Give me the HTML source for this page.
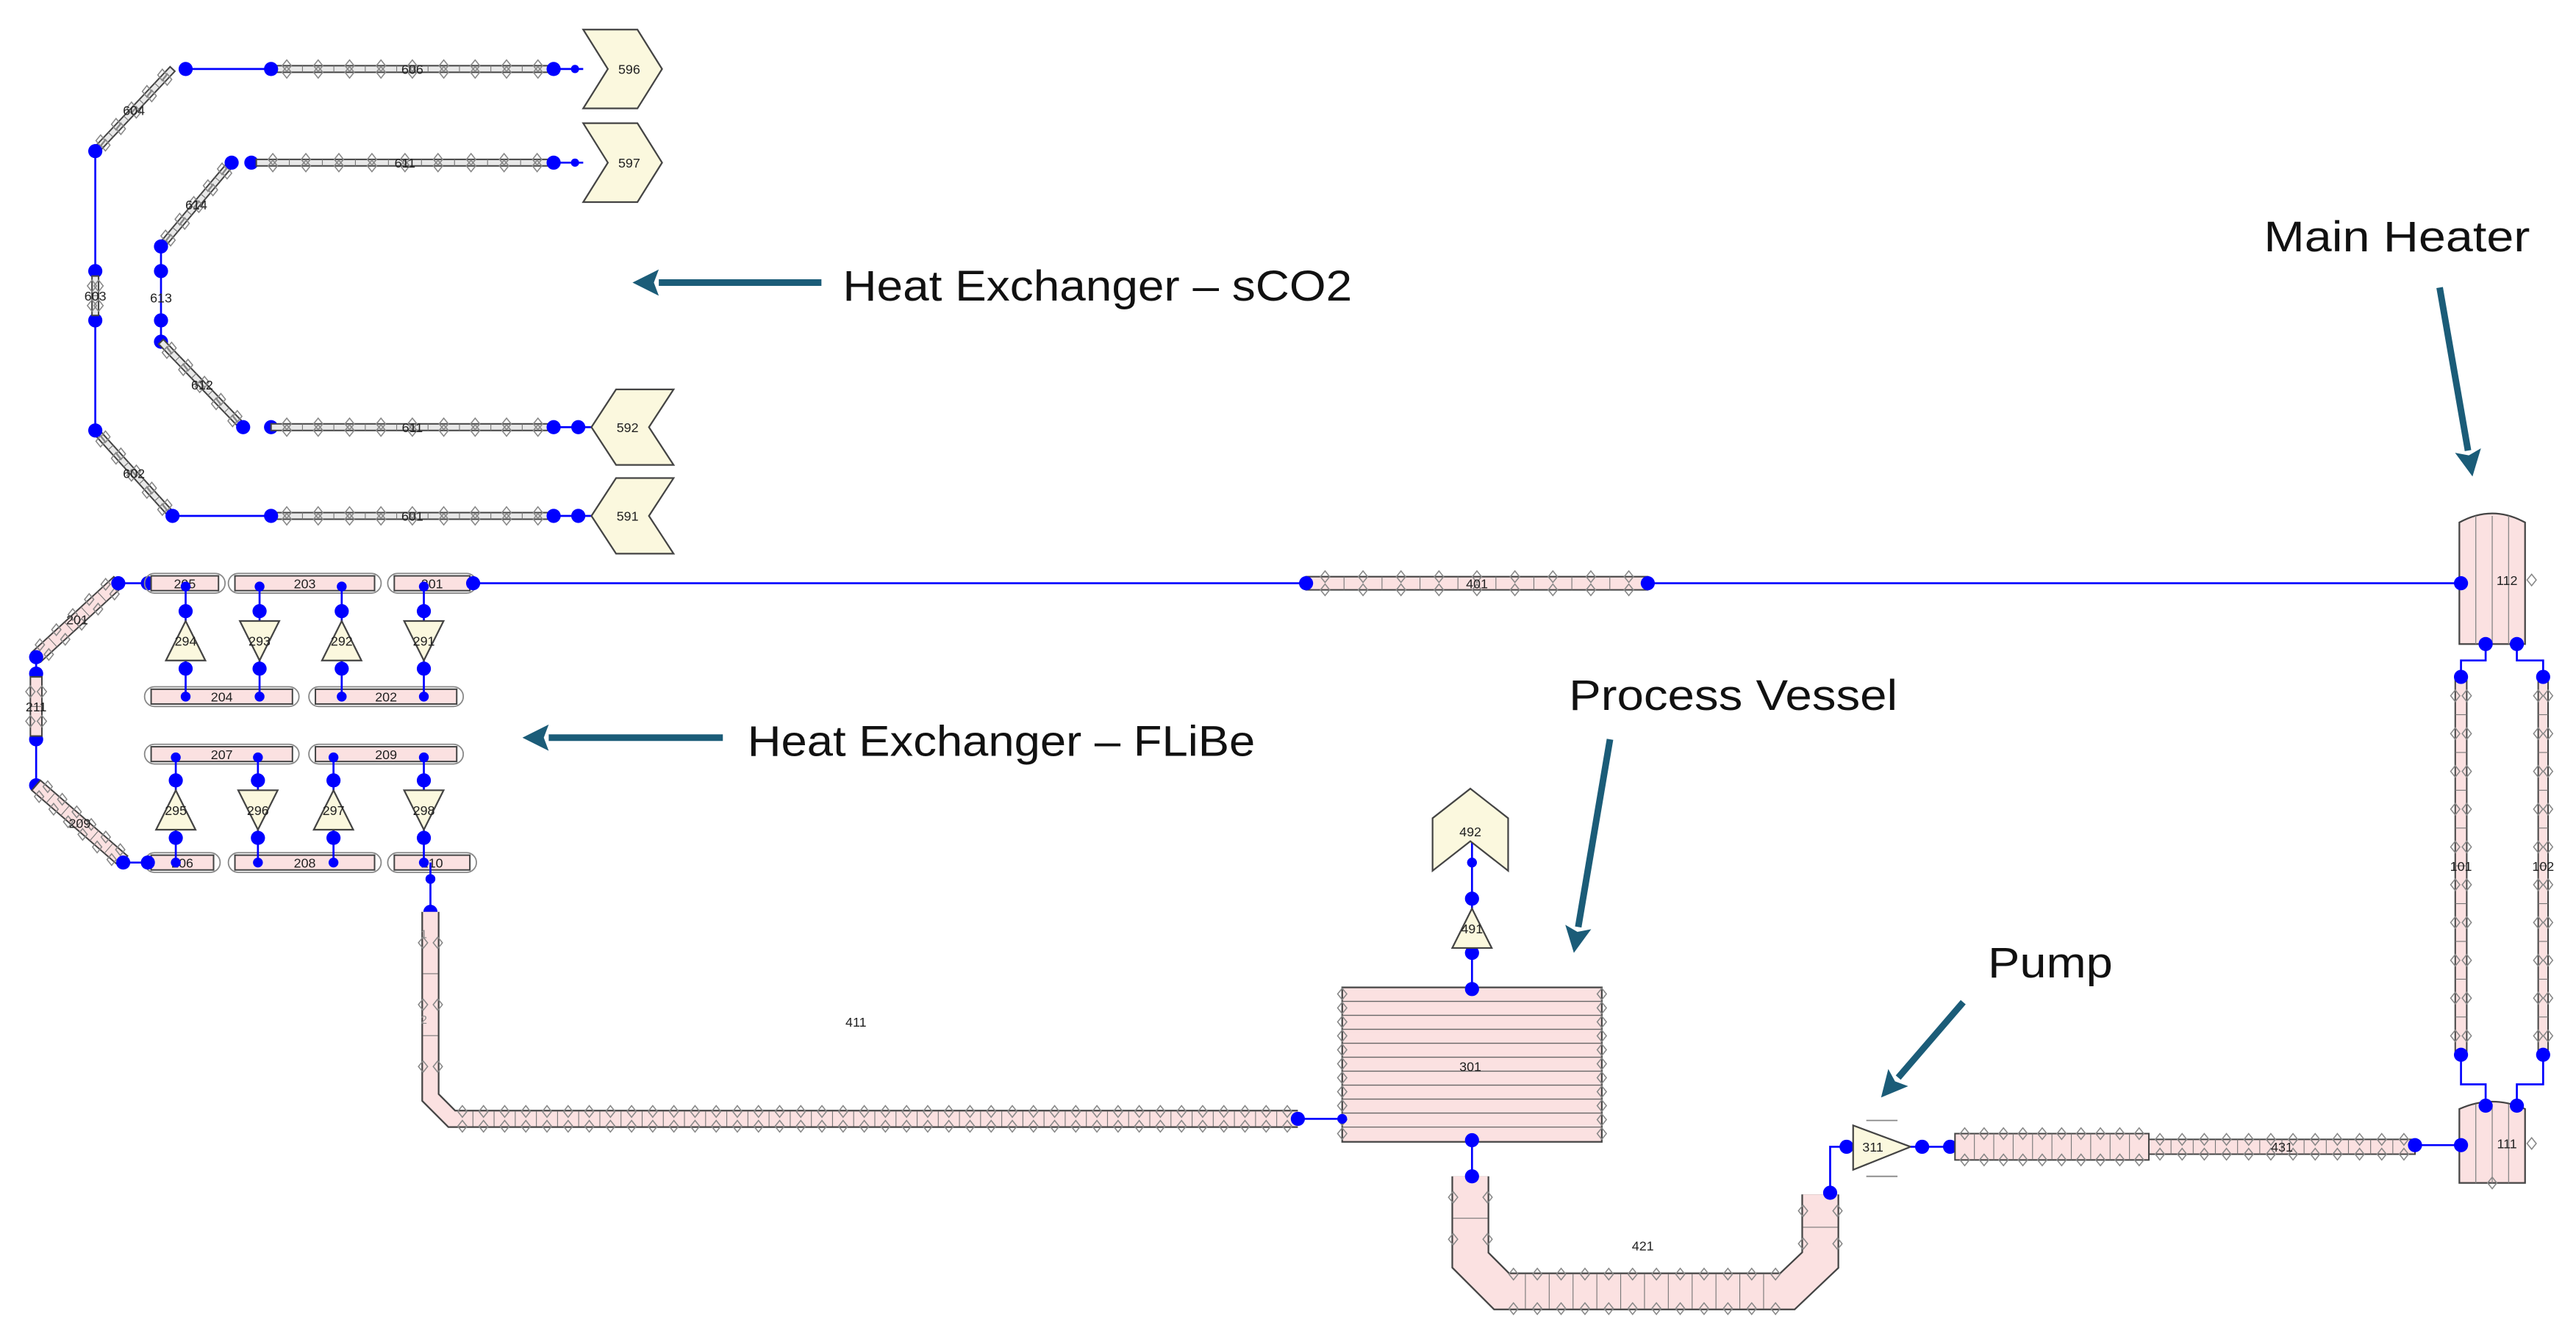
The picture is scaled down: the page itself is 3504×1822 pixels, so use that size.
<!DOCTYPE html>
<html><head><meta charset="utf-8"><style>
html,body{margin:0;padding:0;background:#fff;width:3504px;height:1822px;overflow:hidden}
svg{display:block}
text{font-family:"Liberation Sans",Arial,sans-serif}
</style></head><body>
<svg id="s" width="3504" height="1822" viewBox="0 0 1568 815" preserveAspectRatio="none" xmlns="http://www.w3.org/2000/svg">
<g id="g"></g>
</svg>
<script>
const NS="http://www.w3.org/2000/svg",G=document.getElementById('g');
function el(t,a,txt){const e=document.createElementNS(NS,t);for(const k in a)e.setAttribute(k,a[k]);if(txt!==undefined)e.textContent=txt;G.appendChild(e);return e;}
function line(x1,y1,x2,y2,c='#0000ff',w=1.2){el('line',{x1,y1,x2,y2,stroke:c,'stroke-width':w});}
function poly(pts,c='#0000ff',w=1.2){el('polyline',{points:pts,fill:'none',stroke:c,'stroke-width':w});}
function dot(x,y,r=4.3){el('circle',{cx:x,cy:y,r,fill:'#0000ff'});}
function txt(x,y,s,sz=8,c='#222',anc='middle'){return el('text',{x,y,'font-size':sz,fill:c,'text-anchor':anc},s);}
function big(x,y,s,len){el('text',{x,y,'font-size':26,fill:'#111','text-anchor':'start',textLength:len,lengthAdjust:'spacingAndGlyphs'},s);}
function dia(x,y,s=3.5){el('polygon',{points:`${x},${y-s} ${x+s*0.8},${y} ${x},${y+s} ${x-s*0.8},${y}`,fill:'none',stroke:'#888','stroke-width':0.7});}
function pipe(x1,y1,x2,y2,w,n,fill,label,lsz){
 const dx=x2-x1,dy=y2-y1,L=Math.hypot(dx,dy),ux=dx/L,uy=dy/L,nx=-uy*w/2,ny=ux*w/2;
 el('polygon',{points:`${x1+nx},${y1+ny} ${x2+nx},${y2+ny} ${x2-nx},${y2-ny} ${x1-nx},${y1-ny}`,fill:fill,stroke:'#444','stroke-width':0.9});
 for(let i=1;i<n;i++){const t=i/n,px=x1+dx*t,py=y1+dy*t;
  el('line',{x1:px+nx,y1:py+ny,x2:px-nx,y2:py-ny,stroke:'#777','stroke-width':0.5});}
 for(let i=0;i<n;i++){const t=(i+0.5)/n,px=x1+dx*t,py=y1+dy*t;dia(px+nx,py+ny);dia(px-nx,py-ny);}
 if(label)txt((x1+x2)/2,(y1+y2)/2+3,label,lsz||8);
}
function bent(pts,w){ // continuous pipe with mitred joints
 el('polyline',{points:pts,fill:'none',stroke:'#444','stroke-width':w+2,'stroke-linejoin':'miter'});
 el('polyline',{points:pts,fill:'none',stroke:'#fbe1e1','stroke-width':w,'stroke-linejoin':'miter'});
}
function ticks(x1,y1,x2,y2,w,n){const dx=x2-x1,dy=y2-y1,L=Math.hypot(dx,dy),nx=-dy/L*w/2,ny=dx/L*w/2;
 for(let i=1;i<n;i++){const t=i/n,px=x1+dx*t,py=y1+dy*t;el('line',{x1:px+nx,y1:py+ny,x2:px-nx,y2:py-ny,stroke:'#777','stroke-width':0.5});}
 for(let i=0;i<n;i++){const t=(i+0.5)/n,px=x1+dx*t,py=y1+dy*t;dia(px+nx,py+ny);dia(px-nx,py-ny);}}
function grey(x1,y1,x2,y2,n,label){pipe(x1,y1,x2,y2,4,n,'#e8e8e8',label,8);}
function pink(x1,y1,x2,y2,n,label,w=8){pipe(x1,y1,x2,y2,w,n,'#fbe1e1',label,8);}
function chevR(x,y,lab){el('polygon',{points:`${x},${y-24} ${x+33},${y-24} ${x+48},${y} ${x+33},${y+24} ${x},${y+24} ${x+15},${y}`,fill:'#fbf8de',stroke:'#444','stroke-width':1});txt(x+28,y+3,lab,8);}
function chevL(x,y,lab){el('polygon',{points:`${x},${y} ${x+15},${y-23} ${x+50},${y-23} ${x+35},${y} ${x+50},${y+23} ${x+15},${y+23}`,fill:'#fbf8de',stroke:'#444','stroke-width':1});txt(x+22,y+3,lab,8);}
function tri(x,y,up,lab){const h=24,b=12;const p=up?`${x},${y-h/2} ${x+b},${y+h/2} ${x-b},${y+h/2}`:`${x-b},${y-h/2} ${x+b},${y-h/2} ${x},${y+h/2}`;el('polygon',{points:p,fill:'#fbf8de',stroke:'#444','stroke-width':1});txt(x,y+3,lab,8);}
function arrow(x1,y1,x2,y2){const dx=x2-x1,dy=y2-y1,L=Math.hypot(dx,dy),ux=dx/L,uy=dy/L,hl=16,hw=8;
 const bx=x2-ux*hl,by=y2-uy*hl;
 el('line',{x1,y1,x2:bx,y2:by,stroke:'#1b5c78','stroke-width':4});
 el('polygon',{points:`${x2},${y2} ${bx-uy*hw},${by+ux*hw} ${bx+ux*3},${by+uy*3} ${bx+uy*hw},${by-ux*hw}`,fill:'#1b5c78'});}
function hpipeRow(x1,x2,y,lab){
 el('rect',{x:x1-4,y:y-6,width:x2-x1+8,height:12,rx:6,fill:'none',stroke:'#888','stroke-width':0.8});
 el('rect',{x:x1,y:y-4.5,width:x2-x1,height:9,fill:'#fbe1e1',stroke:'#444','stroke-width':0.9});
 txt((x1+x2)/2,y+3,lab,8);}

// ===== sCO2 =====
line(113,42,165,42);grey(165,42,337,42,9,'606');dot(113,42);dot(165,42);dot(337,42);dot(350,42,2.5);line(337,42,355,42);chevR(355,42,'596');
grey(58,92,105,42,5,'604');
line(58,92,58,262);dot(58,92);dot(58,165);dot(58,195);grey(58,168,58,192,2,'');txt(58,183,'603',8);
grey(58,262,105,314,5,'602');dot(58,262);
line(105,314,165,314);grey(165,314,337,314,9,'601');dot(105,314);dot(165,314);dot(337,314);dot(352,314);line(337,314,360,314);chevL(360,314,'591');
grey(98,150,141,99,5,'614');dot(141,99);dot(153,99);grey(156,99,337,99,9,'611');dot(337,99);dot(350,99,2.5);line(337,99,355,99);chevR(355,99,'597');
line(98,150,98,208);dot(98,150);dot(98,165);dot(98,195);dot(98,208);txt(98,184,'613',8);
grey(98,208,148,260,5,'612');dot(148,260);dot(165,260);grey(165,260,337,260,9,'611');dot(337,260);dot(352,260);line(337,260,360,260);chevL(360,260,'592');
arrow(500,172,385,172);big(513,183,'Heat Exchanger – sCO2',310);

// ===== FLiBe =====
pink(22,400,72,354,5,'201');
line(72,355,90,355);dot(72,355);dot(90,355);
hpipeRow(92,133,355,'205');hpipeRow(143,228,355,'203');hpipeRow(240,286,355,'201');
line(286,355,1498,355);pink(795,355,1003,355,9,'401');dot(288,355);dot(795,355);dot(1003,355);
hpipeRow(92,178,424,'204');hpipeRow(192,278,424,'202');
[[113,1,'294'],[158,0,'293'],[208,1,'292'],[258,0,'291']].forEach(([x,u,l])=>{line(x,357,x,422);dot(x,372);dot(x,407);tri(x,390,u,l);dot(x,424,3);dot(x,357,3);});
line(22,400,22,478);dot(22,400);dot(22,410);dot(22,450);dot(22,478);pink(22,412,22,448,2,'211',7);
pink(22,478,75,524,6,'209');
hpipeRow(92,178,459,'207');hpipeRow(192,278,459,'209');
hpipeRow(92,130,525,'206');hpipeRow(143,228,525,'208');hpipeRow(240,286,525,'210');
line(75,525,90,525);dot(75,525);dot(90,525);
[[107,1,'295'],[157,0,'296'],[203,1,'297'],[258,0,'298']].forEach(([x,u,l])=>{line(x,461,x,523);dot(x,475);dot(x,510);tri(x,493,u,l);dot(x,525,3);dot(x,461,3);});
line(262,525,262,555);dot(262,535,3);dot(262,555);
bent('262,555 262,668 275,681 790,681',9);
ticks(262,555,262,668,9,3);ticks(275,681,790,681,9,40);
txt(258,571,'1',7,'#888');txt(258,623,'2',7,'#888');
txt(521,625,'411',8);dot(790,681);line(790,681,817,681);
arrow(440,449,318,449);big(455,460,'Heat Exchanger – FLiBe',309);

// ===== Process vessel =====
el('rect',{x:817,y:601,width:158,height:94,fill:'#fbe1e1',stroke:'#444','stroke-width':1});
for(let i=1;i<11;i++){const y=601+i*8.5;line(817,y,975,y,'#666',0.6);}
for(let i=0;i<11;i++){const y=605+i*8.5;dia(817,y);dia(975,y);}
txt(895,652,'301',8);dot(817,681,3);
line(896,512,896,602);line(896,694,896,716);
dot(896,602);dot(896,694);dot(896,580);tri(896,565,1,'491');dot(896,547);dot(896,525,3);
el('polygon',{points:`895,480 918,498 918,530 895,512 872,530 872,498`,fill:'#fbf8de',stroke:'#444','stroke-width':1});txt(895,509,'492',8);
big(955,432,'Process Vessel',200);arrow(980,450,958,580);

// 421 U
bent('895,716 895,767 914,786 1088,786 1108,767 1108,727',21);
ticks(895,716,895,767,21,2);ticks(914,786,1088,786,21,12);ticks(1108,767,1108,727,21,2);
txt(1000,761,'421',8);dot(896,716);
poly('1114,726 1114,698 1124,698');dot(1114,726);dot(1124,698);
el('polygon',{points:'1128,685 1128,712 1163,698',fill:'#fbf8de',stroke:'#444','stroke-width':1});txt(1140,701,'311',8);
line(1136,682,1155,682,'#888',0.8);line(1136,716,1155,716,'#888',0.8);
line(1163,698,1187,698);dot(1170,698);dot(1187,698);
pink(1190,698,1308,698,10,'',16);pink(1308,698,1470,698,12,'431',9);
dot(1470,697);line(1470,697,1498,697);
big(1210,595,'Pump',76);arrow(1195,610,1145,668);

// ===== Heater =====
el('path',{d:'M1497,392 L1497,318 Q1517,307 1537,318 L1537,392 Z',fill:'#fbe1e1',stroke:'#444','stroke-width':1});
[1507,1517,1527].forEach(x=>line(x,314,x,392,'#888',0.6));txt(1526,356,'112',8);dia(1541,353);
dot(1498,355);dot(1513,392);dot(1532,392);
poly('1513,392 1513,402 1498,402 1498,412');poly('1532,392 1532,402 1548,402 1548,412');
pink(1498,412,1498,642,10,'101',7);pink(1548,412,1548,642,10,'102',6);
dot(1498,412);dot(1548,412);dot(1498,642);dot(1548,642);
poly('1498,642 1498,660 1513,660 1513,673');poly('1548,642 1548,660 1532,660 1532,673');
el('path',{d:'M1497,720 L1497,675 Q1517,666 1537,675 L1537,720 Z',fill:'#fbe1e1',stroke:'#444','stroke-width':1});
[1507,1517,1527].forEach(x=>line(x,672,x,720,'#888',0.6));txt(1526,699,'111',8);dia(1541,696);dia(1517,720);
dot(1513,673);dot(1532,673);dot(1498,697);
big(1378,153,'Main Heater',162);arrow(1485,175,1505,290);
</script>
</body></html>
